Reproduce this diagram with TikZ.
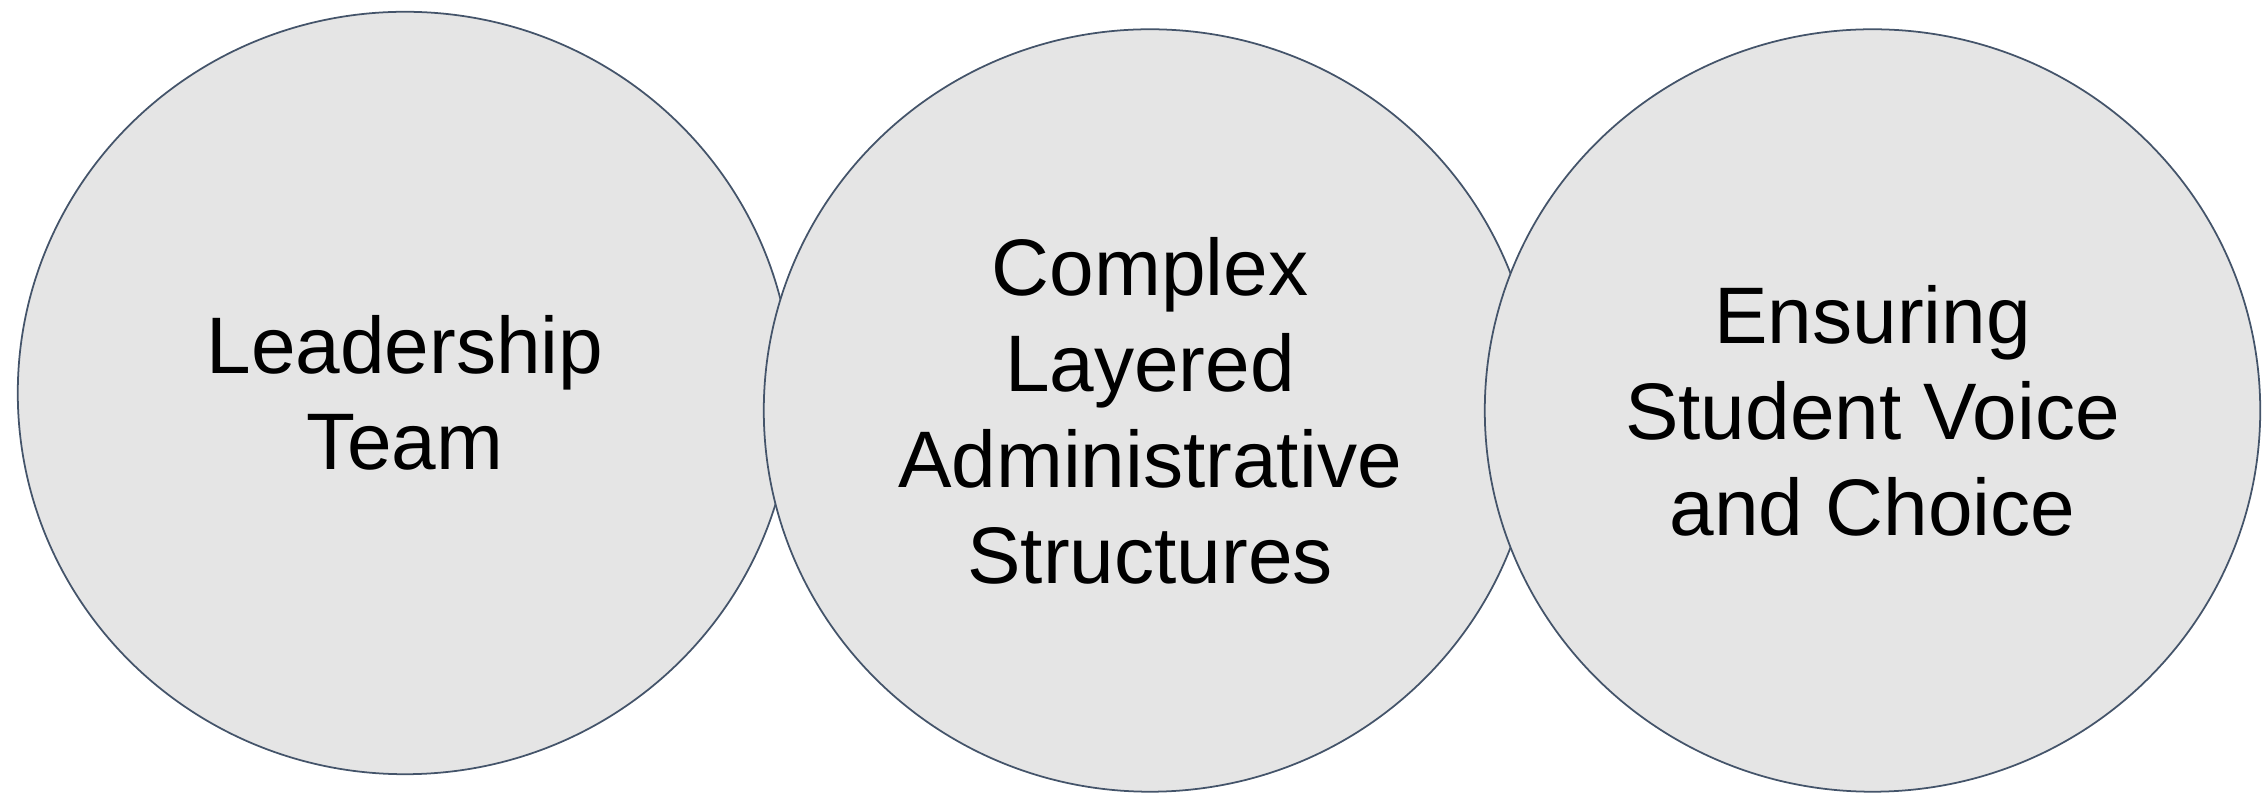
\documentclass[tikz,border=0pt]{standalone}
\usepackage{fontspec}
\setmainfont{Liberation Sans}
\usetikzlibrary{shapes.geometric}
\definecolor{rimcol}{HTML}{44546A}
\definecolor{discfill}{HTML}{E5E5E5}
\tikzset{
  disc/.style={ellipse, draw=rimcol, line width=0.5pt, fill=discfill,
    inner sep=0pt, minimum height=7.62cm, align=center,
    font=\fontsize{22.8}{27.3}\selectfont}
}
\begin{document}
\begin{tikzpicture}[x=0.01cm, y=-0.01cm]
  \useasboundingbox (0,0) rectangle (2267,801);
  \node[disc, minimum width=7.74cm] (lead) at (405,393) {Leadership\\Team};
  \node[disc, minimum width=7.72cm] (admin) at (1150,410.5) {Complex\\Layered\\Administrative\\Structures};
  \node[disc, minimum width=7.75cm] (voice) at (1872.5,410.5) {Ensuring\\Student Voice\\and Choice};
\end{tikzpicture}
\end{document}
